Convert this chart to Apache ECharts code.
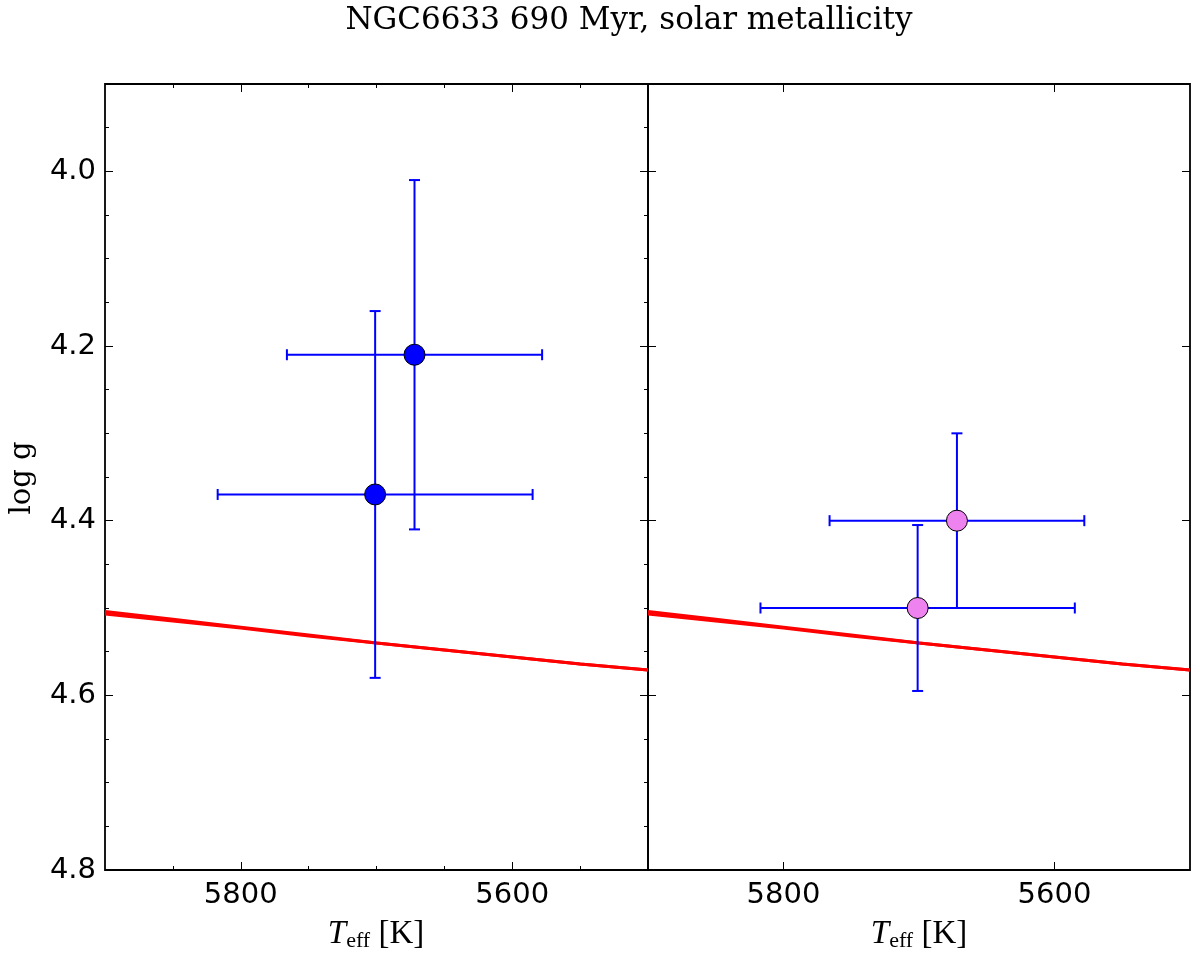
<!DOCTYPE html>
<html>
<head>
<meta charset="utf-8">
<script src="https://cdn.jsdelivr.net/npm/echarts@6/dist/echarts.min.js"></script>
<style>
html,body{margin:0;padding:0;background:#fff;}
#chart{width:1200px;height:958px;}
</style>
</head>
<body>
<div id="chart"></div>
<script>
// ---- data ----
const titleText = 'NGC6633 690 Myr, solar metallicity';
const starTeff = [5672, 5701];
const starTeffErr = [94, 116];
const loggLeft = [4.21, 4.37];
const loggLeftErr = [0.20, 0.21];
const loggRight = [4.40, 4.50];
const loggRightErr = [0.10, 0.095];
const isoTeff = [5900, 5850, 5800, 5750, 5700, 5650, 5600, 5550, 5500];
const isoLoggA = [4.504, 4.513, 4.522, 4.531, 4.540, 4.548, 4.556, 4.564, 4.571];
const isoLoggB = [4.507, 4.515, 4.523, 4.532, 4.540, 4.548, 4.556, 4.564, 4.571];
const xMajorTicks = [5600, 5800];
const xMinorTicks = [5550, 5650, 5700, 5750, 5850];
const yMajorTicks = [4.0, 4.2, 4.4, 4.6, 4.8];
const yMinorTicks = [3.95, 4.05, 4.1, 4.15, 4.25, 4.3, 4.35, 4.45, 4.5, 4.55, 4.65, 4.7, 4.75];
const xRange = [5500, 5900];
const yRange = [3.9, 4.8];

// ---- helpers ----
const zip = (a, b) => a.map((v, i) => [v, b[i]]);
const errData = (x, y, ex, ey) => x.map((v, i) => [v, y[i], ex[i], ey[i]]);

function renderErr(params, api) {
  const x = api.value(0), y = api.value(1), ex = api.value(2), ey = api.value(3);
  const l = api.coord([x - ex, y]);
  const r = api.coord([x + ex, y]);
  const t = api.coord([x, y - ey]);
  const b = api.coord([x, y + ey]);
  const cap = 5.5;
  const st = {stroke: '#0000ff', lineWidth: 2, fill: null};
  const ln = (x1, y1, x2, y2) => ({type: 'line', shape: {x1, y1, x2, y2}, style: st});
  return {
    type: 'group',
    children: [
      ln(l[0], l[1], r[0], r[1]),
      ln(t[0], t[1], b[0], b[1]),
      ln(l[0], l[1] - cap, l[0], l[1] + cap),
      ln(r[0], r[1] - cap, r[0], r[1] + cap),
      ln(t[0] - cap, t[1], t[0] + cap, t[1]),
      ln(b[0] - cap, b[1], b[0] + cap, b[1])
    ]
  };
}

const tickLine = {color: '#000', width: 1};
function xAx(grid, pos, ticks, len, labels) {
  return {
    type: 'value', gridIndex: grid, position: pos, min: xRange[0], max: xRange[1], inverse: true,
    axisLine: {show: false},
    splitLine: {show: false},
    axisTick: {show: true, inside: true, length: len, lineStyle: tickLine, customValues: ticks},
    axisLabel: labels ? {show: true, customValues: xMajorTicks, fontSize: 29, color: '#000',
      fontFamily: 'DejaVu Sans', margin: 11, formatter: v => String(Math.round(v))} : {show: false}
  };
}
function yAx(grid, pos, ticks, len, labels) {
  return {
    type: 'value', gridIndex: grid, position: pos, min: yRange[0], max: yRange[1], inverse: true,
    axisLine: {show: false},
    splitLine: {show: false},
    axisTick: {show: true, inside: true, length: len, lineStyle: tickLine, customValues: ticks},
    axisLabel: labels ? {show: true, customValues: yMajorTicks, fontSize: 29, color: '#000',
      fontFamily: 'DejaVu Sans', margin: 9, formatter: v => Number(v).toFixed(1)} : {show: false}
  };
}

const xLabelStyle = {
  text: '{t|T}{s|eff}{k| [K]}', align: 'center', verticalAlign: 'middle',
  rich: {t: {fontFamily: 'Liberation Serif', fontStyle: 'italic', fontSize: 33, fill: '#000'},
         s: {fontFamily: 'Liberation Serif', fontSize: 22, fill: '#000', padding: [15, 0, 0, 0]},
         k: {fontFamily: 'Liberation Serif', fontSize: 33, fill: '#000'}}
};

const chart = echarts.init(document.getElementById('chart'), null, {renderer: 'canvas'});
const option = {
  backgroundColor: '#fff',
  animation: false,
  grid: [
    {left: 105, top: 84, width: 543, height: 786, show: true, borderColor: '#000', borderWidth: 1.8, backgroundColor: 'transparent'},
    {left: 648, top: 84, width: 542, height: 786, show: true, borderColor: '#000', borderWidth: 1.8, backgroundColor: 'transparent'}
  ],
  xAxis: [
    xAx(0, 'bottom', xMajorTicks, 8, true),
    xAx(0, 'bottom', xMinorTicks, 4, false),
    xAx(0, 'top', xMajorTicks, 8, false),
    xAx(0, 'top', xMinorTicks, 4, false),
    xAx(1, 'bottom', xMajorTicks, 8, true),
    xAx(1, 'top', xMajorTicks, 8, false)
  ],
  yAxis: [
    yAx(0, 'left', yMajorTicks, 8, true),
    yAx(0, 'left', yMinorTicks, 4, false),
    yAx(0, 'right', yMajorTicks, 8, false),
    yAx(0, 'right', yMinorTicks, 4, false),
    yAx(1, 'left', yMajorTicks, 8, false),
    yAx(1, 'right', yMajorTicks, 8, false)
  ],
  graphic: [
    {type: 'text', x: 629, y: 21, z: 10,
      style: {text: titleText, fontFamily: 'DejaVu Serif', fontSize: 31, fill: '#000', align: 'center', verticalAlign: 'middle'}},
    {type: 'text', x: 22, y: 478, rotation: Math.PI / 2, z: 10,
      style: {text: 'log g', fontFamily: 'DejaVu Serif', fontSize: 29, fill: '#000', align: 'center', verticalAlign: 'middle'}},
    {type: 'text', x: 376, y: 934, z: 10, style: xLabelStyle},
    {type: 'text', x: 919, y: 934, z: 10, style: xLabelStyle}
  ],
  series: [
    {type: 'line', xAxisIndex: 0, yAxisIndex: 0, data: zip(isoTeff, isoLoggA), showSymbol: false, clip: true,
      lineStyle: {color: '#ff0000', width: 3}, z: 2},
    {type: 'line', xAxisIndex: 0, yAxisIndex: 0, data: zip(isoTeff, isoLoggB), showSymbol: false, clip: true,
      lineStyle: {color: '#ff0000', width: 3}, z: 2},
    {type: 'custom', xAxisIndex: 0, yAxisIndex: 0, data: errData(starTeff, loggLeft, starTeffErr, loggLeftErr),
      renderItem: renderErr, clip: true, z: 3},
    {type: 'scatter', xAxisIndex: 0, yAxisIndex: 0, data: zip(starTeff, loggLeft), symbol: 'circle', symbolSize: 21,
      itemStyle: {color: '#0000ff', borderColor: '#000', borderWidth: 1, opacity: 1}, z: 4},
    {type: 'line', xAxisIndex: 4, yAxisIndex: 4, data: zip(isoTeff, isoLoggA), showSymbol: false, clip: true,
      lineStyle: {color: '#ff0000', width: 3}, z: 2},
    {type: 'line', xAxisIndex: 4, yAxisIndex: 4, data: zip(isoTeff, isoLoggB), showSymbol: false, clip: true,
      lineStyle: {color: '#ff0000', width: 3}, z: 2},
    {type: 'custom', xAxisIndex: 4, yAxisIndex: 4, data: errData(starTeff, loggRight, starTeffErr, loggRightErr),
      renderItem: renderErr, clip: true, z: 3},
    {type: 'scatter', xAxisIndex: 4, yAxisIndex: 4, data: zip(starTeff, loggRight), symbol: 'circle', symbolSize: 21,
      itemStyle: {color: '#ee82ee', borderColor: '#000', borderWidth: 1, opacity: 1}, z: 4}
  ]
};
chart.setOption(option);
</script>
</body>
</html>
